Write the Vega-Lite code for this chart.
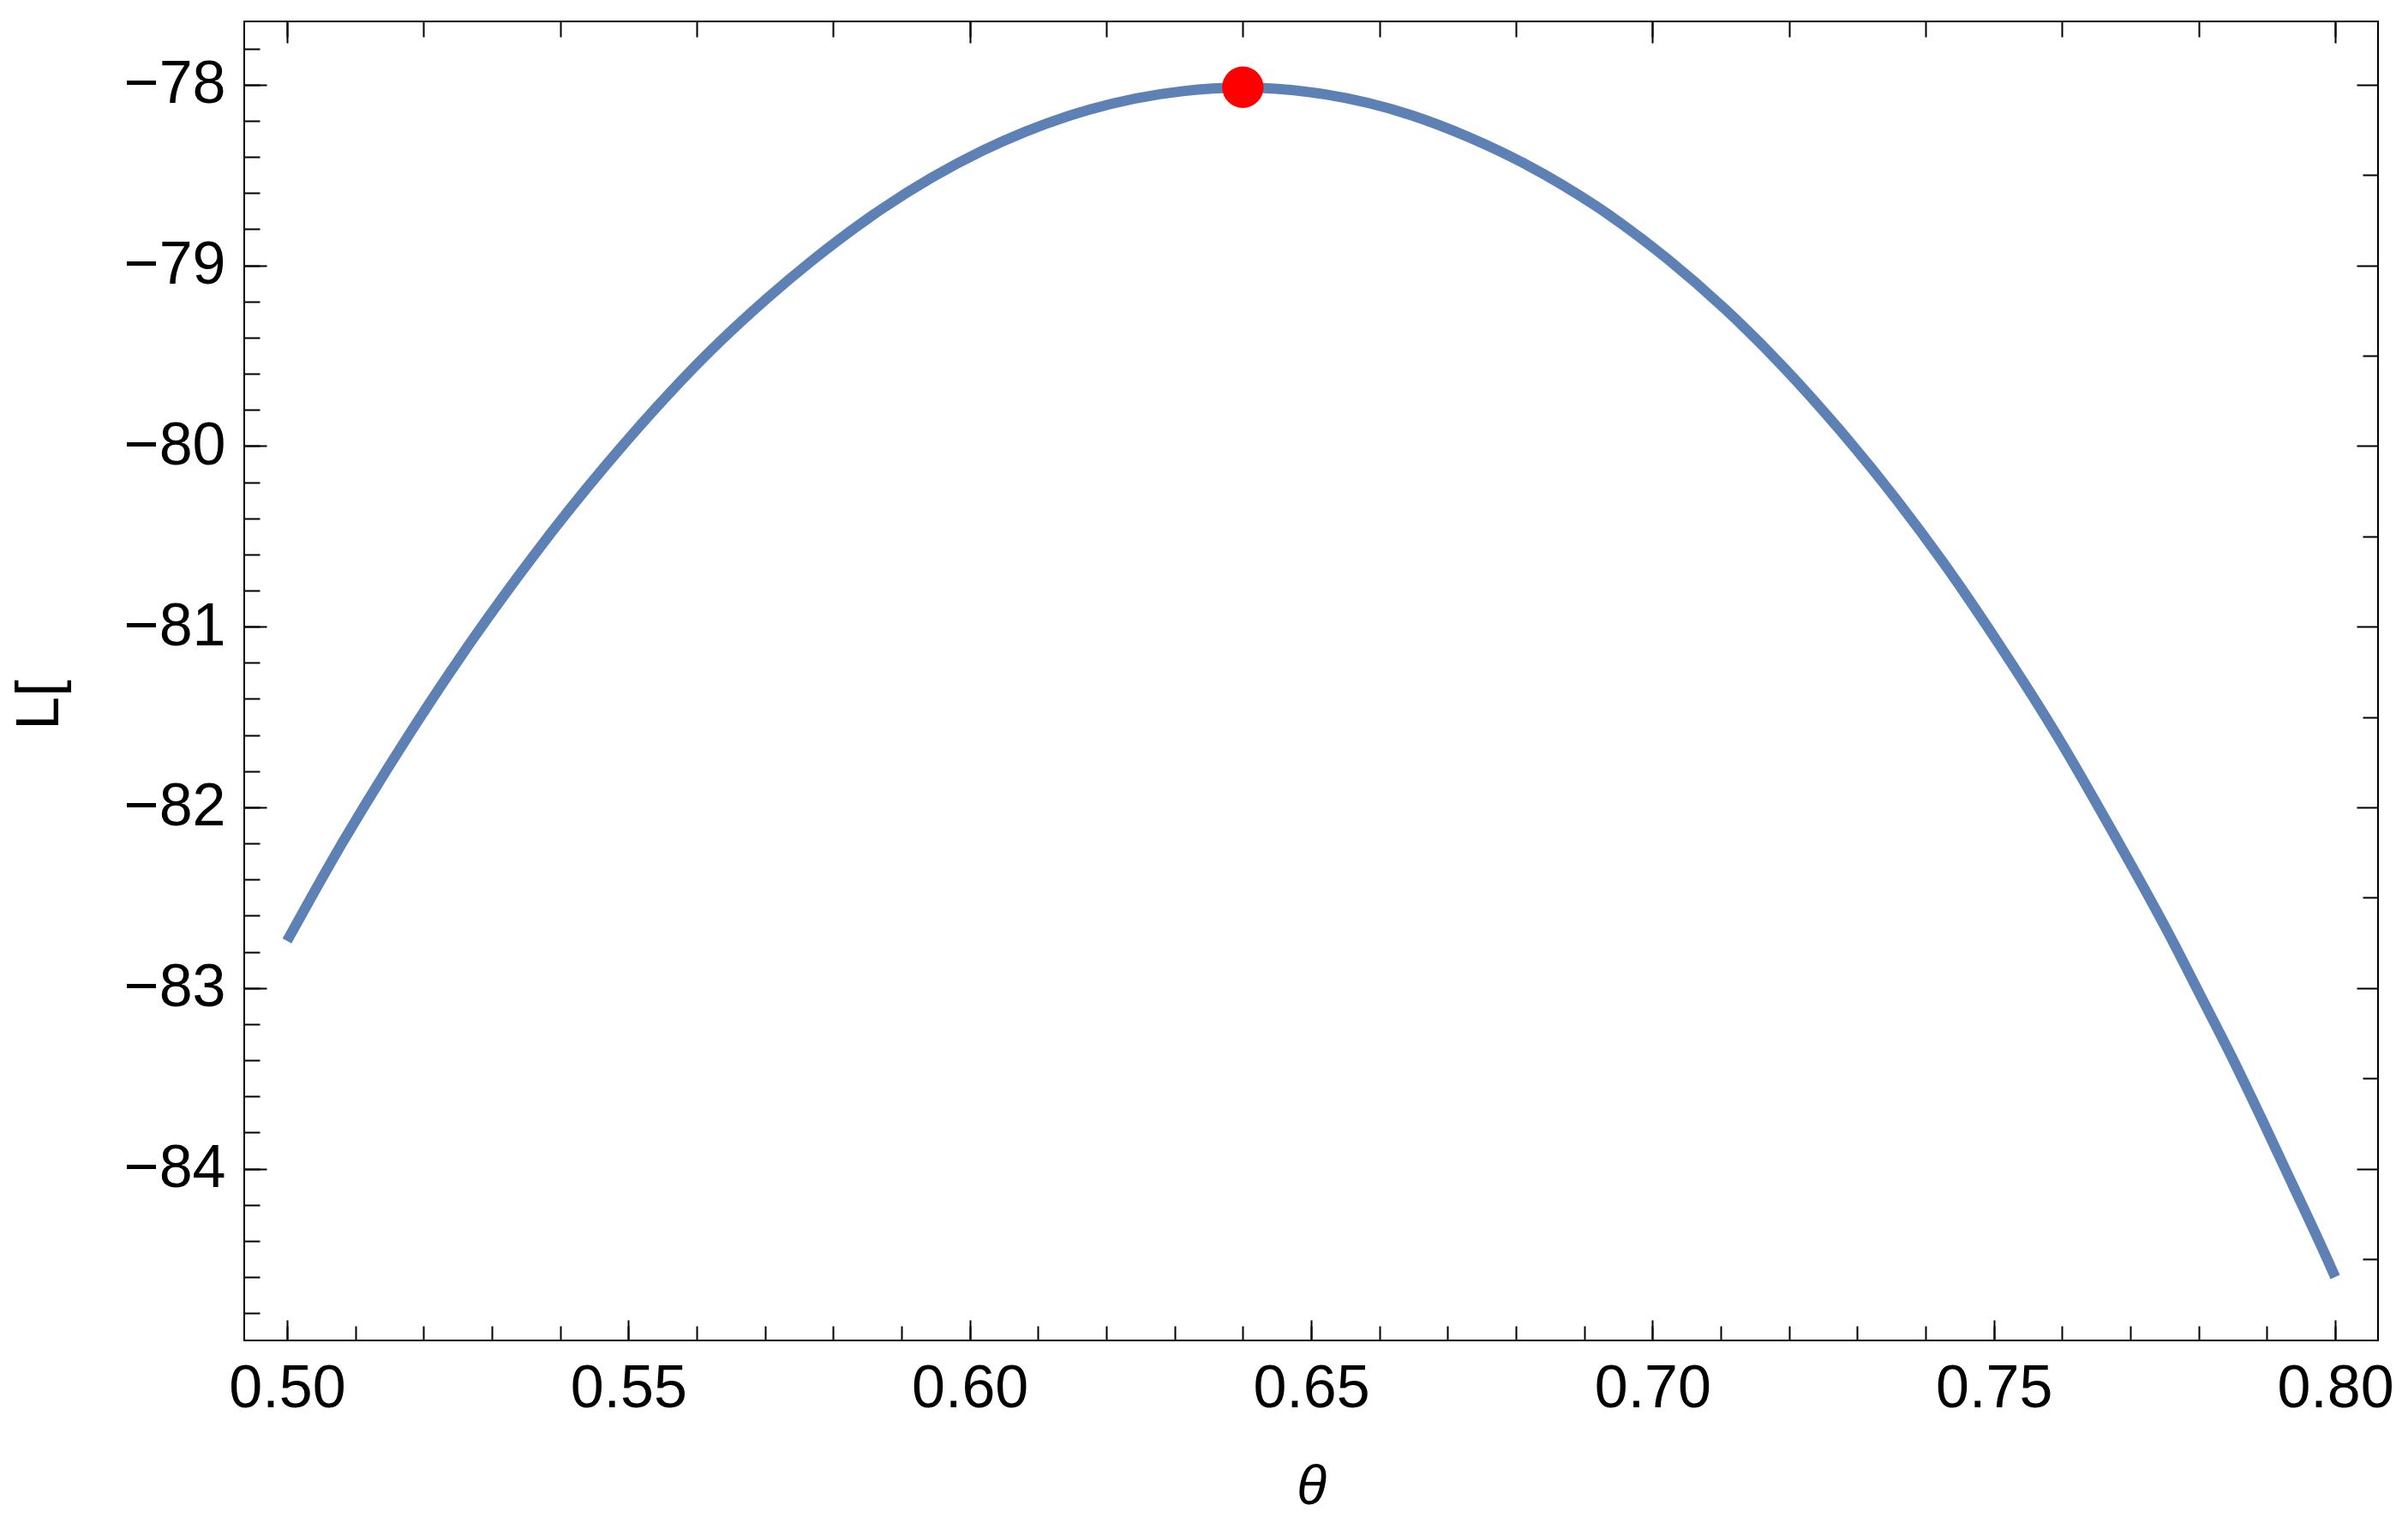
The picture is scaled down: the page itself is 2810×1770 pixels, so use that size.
{
  "$schema": "https://vega.github.io/schema/vega-lite/v6.json",
  "width": 2490,
  "height": 1539,
  "autosize": {"type": "none"},
  "padding": {"left": 285, "top": 25, "right": 35, "bottom": 206},
  "background": "white",
  "config": {
    "view": {"stroke": "black", "strokeWidth": 2},
    "axis": {"labelFont": "Liberation Sans", "titleFont": "Liberation Sans", "labelColor": "black", "titleColor": "black", "tickColor": "black", "tickWidth": 2, "grid": false, "domain": false, "labelFlush": false, "labelOverlap": false}
  },
  "datasets": {
    "curve": [
      {"theta": 0.5000, "L": -82.74},
      {"theta": 0.5082, "L": -82.19},
      {"theta": 0.5113, "L": -81.995},
      {"theta": 0.5182, "L": -81.578},
      {"theta": 0.5272, "L": -81.07},
      {"theta": 0.5360, "L": -80.613},
      {"theta": 0.5389, "L": -80.47},
      {"theta": 0.5492, "L": -79.996},
      {"theta": 0.5613, "L": -79.50},
      {"theta": 0.5704, "L": -79.18},
      {"theta": 0.5767, "L": -78.98},
      {"theta": 0.5872, "L": -78.686},
      {"theta": 0.6019, "L": -78.365},
      {"theta": 0.6144, "L": -78.174},
      {"theta": 0.6312, "L": -78.036},
      {"theta": 0.6400, "L": -78.017},
      {"theta": 0.6521, "L": -78.054},
      {"theta": 0.6646, "L": -78.168},
      {"theta": 0.6730, "L": -78.289},
      {"theta": 0.6814, "L": -78.44},
      {"theta": 0.6918, "L": -78.674},
      {"theta": 0.7022, "L": -78.965},
      {"theta": 0.7107, "L": -79.245},
      {"theta": 0.7190, "L": -79.556},
      {"theta": 0.7274, "L": -79.91},
      {"theta": 0.7358, "L": -80.30},
      {"theta": 0.7425, "L": -80.64},
      {"theta": 0.7508, "L": -81.10},
      {"theta": 0.7592, "L": -81.60},
      {"theta": 0.7676, "L": -82.15},
      {"theta": 0.7759, "L": -82.72},
      {"theta": 0.7801, "L": -83.03},
      {"theta": 0.7847, "L": -83.37},
      {"theta": 0.7893, "L": -83.73},
      {"theta": 0.7939, "L": -84.10},
      {"theta": 0.7987, "L": -84.49},
      {"theta": 0.8000, "L": -84.60}
    ],
    "peak": [
      {"theta": 0.64, "L": -78.014}
    ]
  },
  "resolve": {"axis": {"x": "independent", "y": "independent"}},
  "layer": [
    {
      "data": {"name": "curve"},
      "mark": {"type": "line", "opacity": 0},
      "encoding": {
        "x": {"field": "theta", "type": "quantitative", "scale": {"domain": [0.49373, 0.80627], "nice": false, "zero": false},
          "axis": {"orient": "bottom", "values": [0.5, 0.55, 0.6, 0.65, 0.7, 0.75, 0.8], "labels": false, "offset": -24, "tickSize": 24, "title": null}},
        "y": {"field": "L", "type": "quantitative", "scale": {"domain": [-84.951, -77.65], "nice": false, "zero": false},
          "axis": {"orient": "left", "values": [-84, -83, -82, -81, -80, -79, -78], "labels": false, "offset": -26, "tickSize": 26, "title": null}}
      }
    },
    {
      "data": {"name": "curve"},
      "mark": {"type": "line", "opacity": 0},
      "encoding": {
        "x": {"field": "theta", "type": "quantitative", "scale": {"domain": [0.49373, 0.80627], "nice": false, "zero": false},
          "axis": {"orient": "top", "values": [0.5, 0.52, 0.54, 0.56, 0.58, 0.6, 0.62, 0.64, 0.66, 0.68, 0.7, 0.72, 0.74, 0.76, 0.78, 0.8], "labels": false, "offset": -18, "tickSize": 18, "title": null}},
        "y": {"field": "L", "type": "quantitative", "scale": {"domain": [-84.951, -77.65], "nice": false, "zero": false},
          "axis": {"orient": "right", "values": [-84.5, -83.5, -82.5, -81.5, -80.5, -79.5, -78.5], "labels": false, "offset": -18, "tickSize": 18, "title": null}}
      }
    },
    {
      "data": {"name": "curve"},
      "mark": {"type": "line", "opacity": 0},
      "encoding": {
        "x": {"field": "theta", "type": "quantitative", "scale": {"domain": [0.49373, 0.80627], "nice": false, "zero": false},
          "axis": {"orient": "top", "values": [0.5, 0.6, 0.7, 0.8], "labels": false, "offset": -25, "tickSize": 25, "title": null}},
        "y": {"field": "L", "type": "quantitative", "scale": {"domain": [-84.951, -77.65], "nice": false, "zero": false},
          "axis": {"orient": "right", "values": [-84, -83, -82, -81, -80, -79, -78], "labels": false, "offset": -25, "tickSize": 25, "title": null}}
      }
    },
    {
      "data": {"name": "curve"},
      "mark": {"type": "line", "color": "#5E81B5", "strokeWidth": 12, "strokeCap": "butt", "strokeJoin": "round", "interpolate": "monotone"},
      "encoding": {
        "x": {"field": "theta", "type": "quantitative", "scale": {"domain": [0.49373, 0.80627], "nice": false, "zero": false},
          "axis": {"orient": "bottom", "values": [0.5, 0.55, 0.6, 0.65, 0.7, 0.75, 0.8], "format": ".2f", "ticks": false, "labelFontSize": 70, "labelPadding": 22,
            "title": "θ", "titleFontSize": 64, "titleFontStyle": "italic", "titleFontWeight": "normal", "titleX": 1245, "titleY": 190, "titleAlign": "center", "titleBaseline": "alphabetic"}},
        "y": {"field": "L", "type": "quantitative", "scale": {"domain": [-84.951, -77.65], "nice": false, "zero": false},
          "axis": {"orient": "left", "values": [-84, -83, -82, -81, -80, -79, -78], "format": "d", "ticks": false, "labelFontSize": 70, "labelPadding": 22,
            "title": "L[", "titleFontSize": 70, "titleFontWeight": "normal", "titleAngle": -90, "titleX": -218, "titleY": 797, "titleAlign": "center", "titleBaseline": "alphabetic"}}
      }
    },
    {
      "data": {"name": "peak"},
      "mark": {"type": "point", "filled": true, "color": "#FF0000", "opacity": 1, "size": 2340},
      "encoding": {
        "x": {"field": "theta", "type": "quantitative", "scale": {"domain": [0.49373, 0.80627], "nice": false, "zero": false},
          "axis": {"orient": "bottom", "values": [0.5, 0.51, 0.52, 0.53, 0.54, 0.55, 0.56, 0.57, 0.58, 0.59, 0.6, 0.61, 0.62, 0.63, 0.64, 0.65, 0.66, 0.67, 0.68, 0.69, 0.7, 0.71, 0.72, 0.73, 0.74, 0.75, 0.76, 0.77, 0.78, 0.79, 0.8], "labels": false, "offset": -17, "tickSize": 17, "title": null}},
        "y": {"field": "L", "type": "quantitative", "scale": {"domain": [-84.951, -77.65], "nice": false, "zero": false},
          "axis": {"orient": "left", "values": [-84.8, -84.6, -84.4, -84.2, -84, -83.8, -83.6, -83.4, -83.2, -83, -82.8, -82.6, -82.4, -82.2, -82, -81.8, -81.6, -81.4, -81.2, -81, -80.8, -80.6, -80.4, -80.2, -80, -79.8, -79.6, -79.4, -79.2, -79, -78.8, -78.6, -78.4, -78.2, -78, -77.8], "labels": false, "offset": -18, "tickSize": 18, "title": null}}
      }
    }
  ]
}
